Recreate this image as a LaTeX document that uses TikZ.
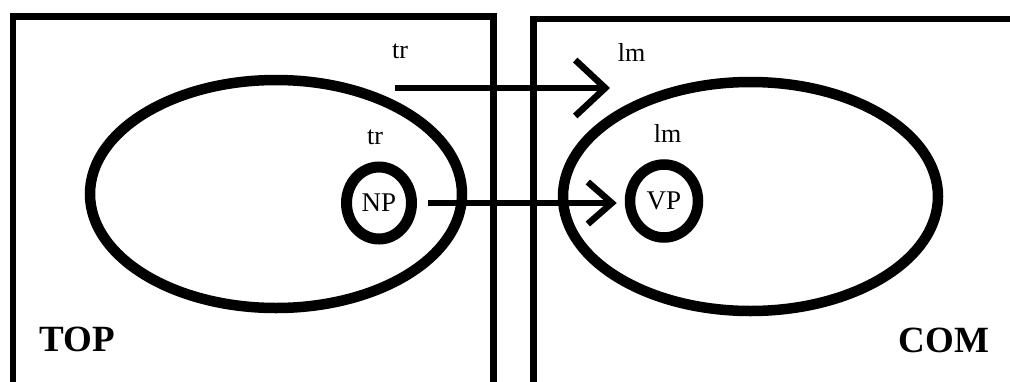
\documentclass[tikz,border=0pt]{standalone}
\usepackage{fontspec}
\setmainfont{Liberation Serif}
\usetikzlibrary{shapes.geometric,arrows.meta}

\tikzset{
  frame/.style={draw, line width=6.5pt},
  region/.style={ellipse, draw, line width=10.5pt, inner sep=0pt},
  phrase/.style={ellipse, draw, line width=11pt, inner sep=0pt,
                 font=\fontsize{27}{30}\selectfont},
  role/.style={inner sep=0pt, font=\fontsize{26}{29}\selectfont},
  domainlabel/.style={inner sep=0pt, font=\fontsize{37}{40}\selectfont\bfseries},
  link/.style={line width=6pt},
}

\begin{document}
\begin{tikzpicture}[x=1pt, y=-1pt]
  \useasboundingbox (0,0) rectangle (1010,381);
  \clip (0,0) rectangle (1010,381);

  % the two domains
  \draw[frame] (13,16.5) rectangle (493.5,388);
  \draw[frame] (533.5,19) rectangle (1020,388);

  % the two conceptual regions
  \node[region, minimum width=372pt, minimum height=228pt] (topreg) at (276,194) {};
  \node[region, minimum width=375pt, minimum height=229pt] (comreg) at (750.5,196.5) {};

  % the phrases inside them
  \node[phrase, minimum width=65pt, minimum height=72pt] (np) at (379,203) {NP};
  \node[phrase, line width=10.5pt, minimum width=68pt, minimum height=73pt] (vp) at (664,201) {VP};

  % role labels
  \node[role] (tr1) at (400,51.5) {tr};
  \node[role] (tr2) at (375,137.5) {tr};
  \node[role] (lm1) at (631.5,52.5) {lm};
  \node[role] (lm2) at (667.5,133.5) {lm};

  % domain labels
  \node[domainlabel] (top) at (77.5,339.5) {TOP};
  \node[domainlabel] (com) at (944,340.5) {COM};

  % mappings between the domains
  \coordinate (trsrc) at (395,88);
  \coordinate (lmdst) at (610,88);
  \draw[link, -{Straight Barb[length=30pt, width=56pt, line width=6.5pt]}] (trsrc) -- (lmdst);
  \draw[link, -{Straight Barb[length=24pt, width=42pt, line width=6.5pt]},
        shorten <=11pt, shorten >=8pt] (np.east) -- (np.east -| vp.west);
\end{tikzpicture}
\end{document}
